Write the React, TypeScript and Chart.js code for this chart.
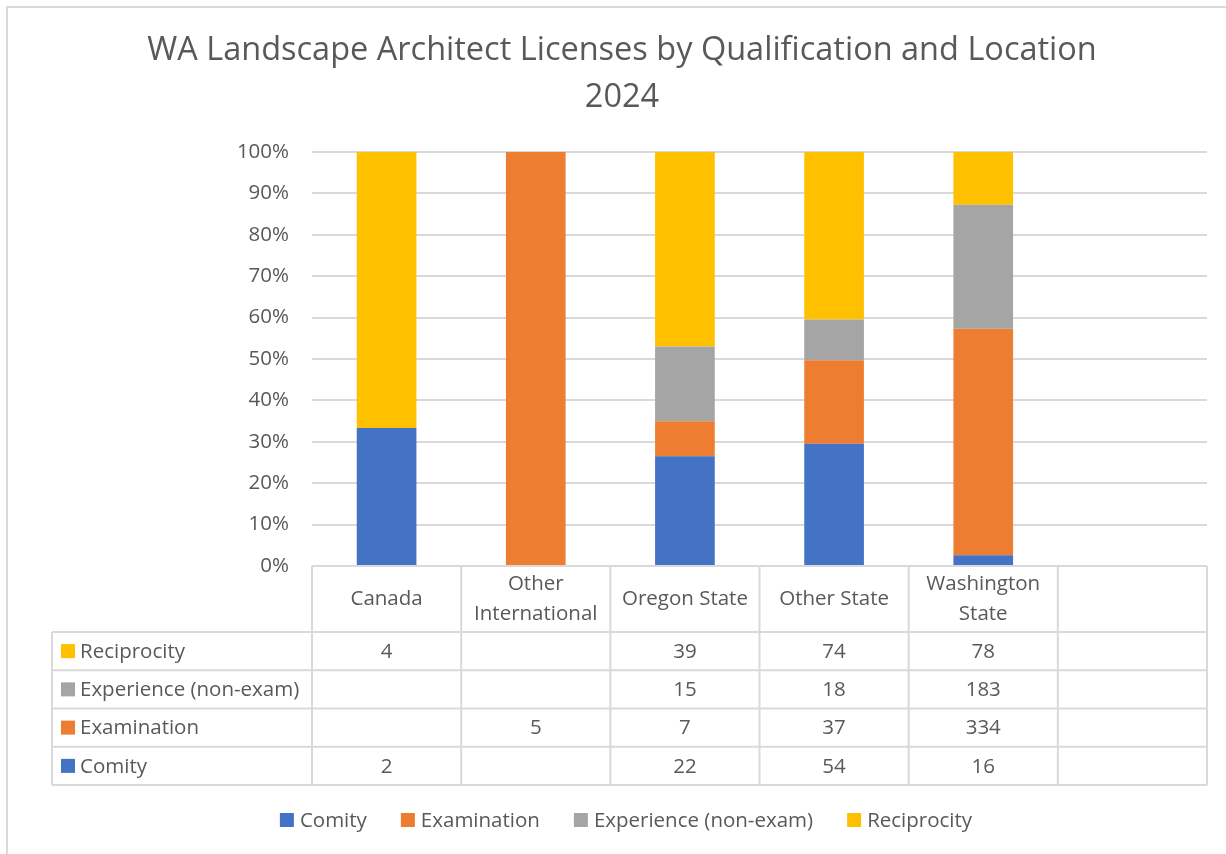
import React, { useEffect, useRef } from "react";
import { Chart, registerables } from "chart.js";

Chart.register(...registerables);

const TITLE_LINES = ["WA Landscape Architect Licenses by Qualification and Location", "2024"];
const CATEGORIES: (string | string[])[] = [
  "Canada",
  ["Other", "International"],
  "Oregon State",
  "Other State",
  ["Washington", "State"],
  "",
];
const SERIES_NAMES = ["Comity", "Examination", "Experience (non-exam)", "Reciprocity"];
const SERIES_COLORS = ["#4472C4", "#ED7D31", "#A5A5A5", "#FFC000"];
const COMITY: (number | null)[] = [2, null, 22, 54, 16, null];
const EXAMINATION: (number | null)[] = [null, 5, 7, 37, 334, null];
const EXPERIENCE: (number | null)[] = [null, null, 15, 18, 183, null];
const RECIPROCITY: (number | null)[] = [4, null, 39, 74, 78, null];

const FONT = "'Open Sans', 'DejaVu Sans', sans-serif";
const TEXT = "#595959";
const LINE = "#d9d9d9";

const RAW = [COMITY, EXAMINATION, EXPERIENCE, RECIPROCITY];
const TOTALS = CATEGORIES.map((_, i) => RAW.reduce((s, arr) => s + (arr[i] ?? 0), 0));
const pct = (arr: (number | null)[]) =>
  arr.map((v, i) => (v == null || TOTALS[i] === 0 ? null : (v / TOTALS[i]) * 100));

const overlayPlugin = {
  id: "overlay",
  afterDraw(chart: any) {
    const ctx: CanvasRenderingContext2D = chart.ctx;
    const area = chart.chartArea;
    const xs = chart.scales.x;
    const n = CATEGORIES.length;
    const colW = (area.right - area.left) / n;
    const headerTop = area.bottom;
    const headerBottom = 632;
    const rowH = 38.25;
    const tableLeft = 52;
    const rows = chart.data.datasets.slice().reverse();
    const tableBottom = headerBottom + rowH * rows.length;

    ctx.save();
    // chart outer border
    ctx.strokeStyle = LINE;
    ctx.lineWidth = 2;
    ctx.beginPath();
    ctx.moveTo(7, 860);
    ctx.lineTo(7, 7);
    ctx.lineTo(1240, 7);
    ctx.stroke();

    // table grid
    ctx.beginPath();
    ctx.moveTo(area.left, headerTop);
    ctx.lineTo(area.right, headerTop);
    for (let r = 0; r <= rows.length; r++) {
      const y = headerBottom + r * rowH;
      ctx.moveTo(tableLeft, y);
      ctx.lineTo(area.right, y);
    }
    for (let i = 0; i <= n; i++) {
      const x = area.left + i * colW;
      ctx.moveTo(x, headerTop);
      ctx.lineTo(x, tableBottom);
    }
    ctx.moveTo(tableLeft, headerBottom);
    ctx.lineTo(tableLeft, tableBottom);
    ctx.stroke();

    ctx.fillStyle = TEXT;
    ctx.font = `20.5px ${FONT}`;
    ctx.textAlign = "center";
    ctx.textBaseline = "middle";
    // header
    const headerMid = (headerTop + headerBottom) / 2;
    CATEGORIES.forEach((c, i) => {
      const lines = Array.isArray(c) ? c : [c];
      const cx = xs.getPixelForValue(i);
      const lh = 30;
      lines.forEach((t, k) => {
        ctx.fillText(t, cx, headerMid + (k - (lines.length - 1) / 2) * lh);
      });
    });
    // rows
    rows.forEach((ds: any, r: number) => {
      const cy = headerBottom + r * rowH + rowH / 2;
      ctx.fillStyle = ds.backgroundColor;
      ctx.fillRect(61, cy - 7, 14, 14);
      ctx.fillStyle = TEXT;
      ctx.textAlign = "left";
      ctx.fillText(ds.label, 80, cy + 1);
      ctx.textAlign = "center";
      ds.raw.forEach((v: number | null, i: number) => {
        if (v == null) return;
        ctx.fillText(String(v), xs.getPixelForValue(i), cy + 1);
      });
    });

    // title
    ctx.font = `32.5px ${FONT}`;
    ctx.textAlign = "center";
    ctx.fillText(TITLE_LINES[0], 622, 51);
    ctx.fillText(TITLE_LINES[1], 622, 98);

    // legend
    ctx.font = `20.5px ${FONT}`;
    ctx.textAlign = "left";
    const items = chart.data.datasets;
    const sq = 14, gapIn = 6, gapOut = 34;
    const widths = items.map((d: any) => sq + gapIn + ctx.measureText(d.label).width);
    const total = widths.reduce((a: number, b: number) => a + b, 0) + gapOut * (items.length - 1);
    let lx = 626 - total / 2;
    const ly = 820;
    items.forEach((d: any, k: number) => {
      ctx.fillStyle = d.backgroundColor;
      ctx.fillRect(lx, ly - 7, sq, sq);
      ctx.fillStyle = TEXT;
      ctx.fillText(d.label, lx + sq + gapIn, ly + 1);
      lx += widths[k] + gapOut;
    });
    ctx.restore();
  },
};

export default function App() {
  const ref = useRef<HTMLCanvasElement | null>(null);
  useEffect(() => {
    if (!ref.current) return;
    const rawSeries = [COMITY, EXAMINATION, EXPERIENCE, RECIPROCITY];
    const chart = new Chart(ref.current, {
      type: "bar",
      data: {
        labels: CATEGORIES as any,
        datasets: SERIES_NAMES.map((name, k) => ({
          label: name,
          data: pct(rawSeries[k]) as any,
          raw: rawSeries[k],
          backgroundColor: SERIES_COLORS[k],
          borderWidth: 0,
          categoryPercentage: 0.4,
          barPercentage: 1,
        })) as any,
      },
      options: {
        responsive: false,
        animation: false,
        layout: { padding: { top: 152, right: 19, bottom: 288, left: 0 } },
        plugins: {
          legend: { display: false },
          title: { display: false },
          tooltip: { enabled: false },
        },
        scales: {
          x: { stacked: true, display: false },
          y: {
            stacked: true,
            min: 0,
            max: 100,
            afterFit: (s: any) => {
              s.width = 312;
            },
            ticks: {
              stepSize: 10,
              padding: 23,
              color: TEXT,
              font: { family: FONT, size: 20.5 },
              callback: (v: any) => `${v}%`,
            },
            grid: { color: LINE, lineWidth: 2, drawTicks: false },
            border: { display: false },
          },
        },
      },
      plugins: [overlayPlugin],
    });
    return () => chart.destroy();
  }, []);
  return (
    <div style={{ position: "fixed", left: 0, top: 0, width: 1226, height: 854, background: "#fff" }}>
      <canvas ref={ref} width={1226} height={854} style={{ display: "block" }} />
    </div>
  );
}
